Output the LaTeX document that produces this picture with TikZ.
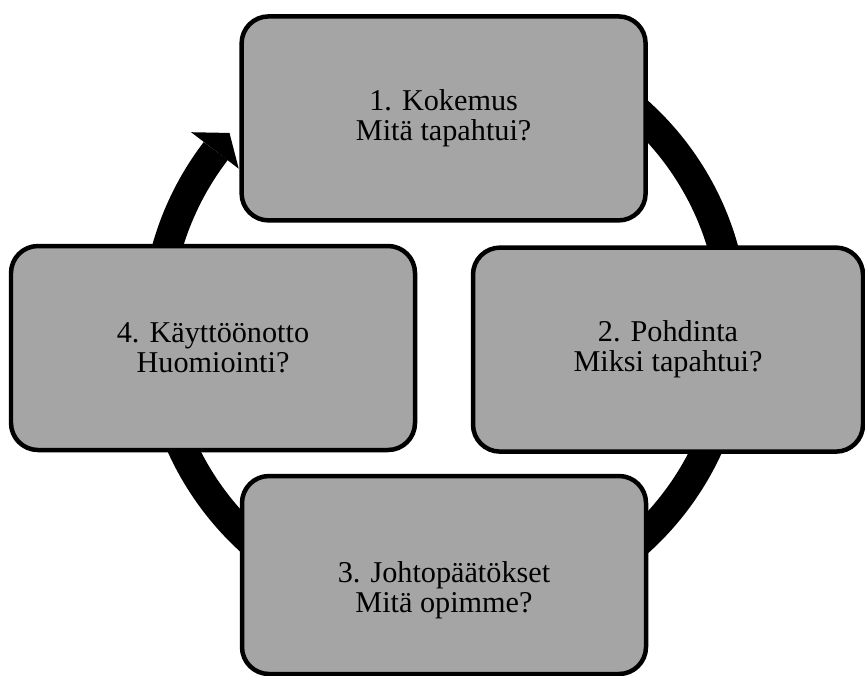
\documentclass[tikz,border=0pt]{standalone}
\usepackage{fontspec}
\setmainfont{Liberation Serif}
\usetikzlibrary{backgrounds,calc}
\definecolor{cStep}{HTML}{A5A5A5}
\definecolor{cInk}{HTML}{000000}
\tikzset{
  steptext/.style = {align=center, text=cInk, font=\fontsize{21.5}{21.5}\selectfont},
  stepbox/.style  = {steptext, draw=cInk, fill=cStep, line width=3.2pt,
                     rounded corners=0.675cm, inner sep=0pt,
                     minimum width=10.1cm, minimum height=5.1cm},
  ring/.style     = {draw=cInk, line width=0.75cm},
}

\begin{document}
\begin{tikzpicture}
  \useasboundingbox (0,0) rectangle (21.625,-16.875);
  \coordinate (hub) at (11.125,-8.175);
  % the four steps
  \node[stepbox] (b1) at (11.09,-2.96) {1. Kokemus\\ Mitä tapahtui?};
  \node[stepbox, minimum width=9.75cm] (b2) at (16.7,-8.74)
    {2. Pohdinta\\ Miksi tapahtui?};
  \node[stepbox, minimum height=4.95cm] (b3) at (11.1,-14.375) {};
  \node[steptext] (t3) at ($(b3)+(0,-0.375)$) {3. Johtopäätökset\\ Mitä opimme?};
  \node[stepbox] (b4) at (5.325,-8.7) {4. Käyttöönotto\\ Huomiointi?};
  % the cycle ring with its head, behind the steps
  \begin{scope}[on background layer]
    \draw[ring] ($(hub)+(90:7.225)$) arc[start angle=90, end angle=-217.5, radius=7.225];
    \fill[cInk] ($(hub)+(142.5:8.0)$) -- ($(hub)+(138:7.25)$)
      -- ($(hub)+(142.5:6.5)$) -- cycle;
  \end{scope}
\end{tikzpicture}
\end{document}
